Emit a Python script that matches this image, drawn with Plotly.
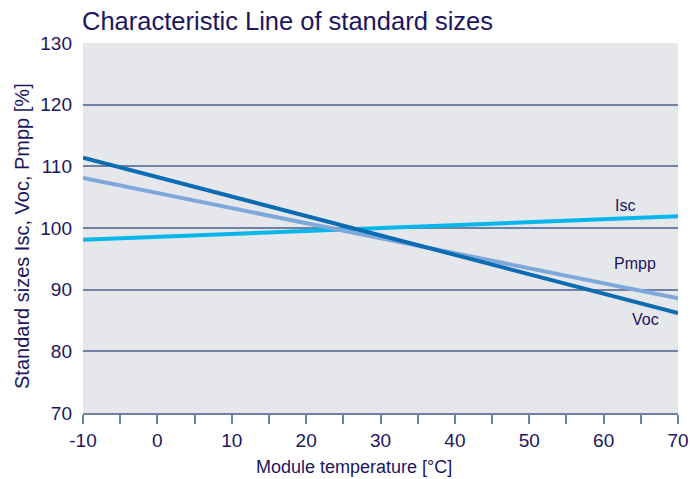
import plotly.graph_objects as go

temps = [-10, 70]
voc = [111.4, 86.2]
pmpp = [108.1, 88.6]
isc = [98.1, 101.9]
series_names = ["Isc", "Pmpp", "Voc"]
x_ticks = [-10, 0, 10, 20, 30, 40, 50, 60, 70]
x_tick_text = ["-10", "0", "10", "20", "30", "40", "50", "60", "70"]
y_ticks = [70, 80, 90, 100, 110, 120, 130]

navy = "#1b1660"
grid = "#6f82a3"
font_family = "Liberation Sans, Arial"

fig = go.Figure()
fig.add_trace(go.Scatter(x=temps, y=isc, mode="lines", line=dict(color="#07b6ea", width=4), name="Isc"))
fig.add_trace(go.Scatter(x=temps, y=pmpp, mode="lines", line=dict(color="#7ea8dc", width=4), name="Pmpp"))
fig.add_trace(go.Scatter(x=temps, y=voc, mode="lines", line=dict(color="#0b6cb3", width=4), name="Voc"))

label_pos = {"Isc": (62.9, 103.7), "Pmpp": (64.2, 94.3), "Voc": (65.6, 85.1)}
for n in series_names:
    lx, ly = label_pos[n]
    fig.add_annotation(x=lx, y=ly, text=n, showarrow=False,
                       font=dict(size=16, color=navy, family=font_family))

# axis titles as paper annotations (positioned as in the reference)
fig.add_annotation(xref="paper", yref="paper", x=(354 - 83) / 595, y=(413 - 467) / 370,
                   text="Module temperature [°C]", showarrow=False, xanchor="center", yanchor="middle",
                   font=dict(size=18, color=navy, family=font_family))
fig.add_annotation(xref="paper", yref="paper", x=(22 - 83) / 595, y=(413 - 236) / 370,
                   text="Standard sizes Isc, Voc, Pmpp [%]", showarrow=False, textangle=-90,
                   xanchor="center", yanchor="middle",
                   font=dict(size=20, color=navy, family=font_family))

fig.update_layout(
    width=690, height=479,
    margin=dict(l=83, r=12, t=43, b=66),
    paper_bgcolor="white",
    plot_bgcolor="#e6e7ea",
    showlegend=False,
    font=dict(family=font_family, color=navy, size=18),
    title=dict(text="Characteristic Line of standard sizes", x=82/690, xanchor="left",
               y=1 - 21/479, yanchor="middle", font=dict(size=25.5, color=navy)),
)
fig.update_xaxes(range=[-10, 70], tickvals=x_ticks, ticktext=x_tick_text, showgrid=False, zeroline=False,
                 showline=True, linecolor=grid, linewidth=1.5, automargin=False,
                 ticks="outside", ticklen=9, tickcolor=grid, tickwidth=1.5,
                 minor=dict(ticks="outside", ticklen=9, tickcolor=grid, tickwidth=1.5, dtick=5, tick0=-10),
                 tickfont=dict(size=19, color=navy))
fig.update_yaxes(range=[70, 130], tickvals=y_ticks, showgrid=True, gridcolor=grid, gridwidth=1.5,
                 zeroline=False, showline=False, ticks="", ticklabelstandoff=10, automargin=False,
                 tickfont=dict(size=19, color=navy))

fig.write_html("out.html", config={"displayModeBar": False},
               post_script="document.body.style.margin='0';document.body.style.overflow='hidden';")
